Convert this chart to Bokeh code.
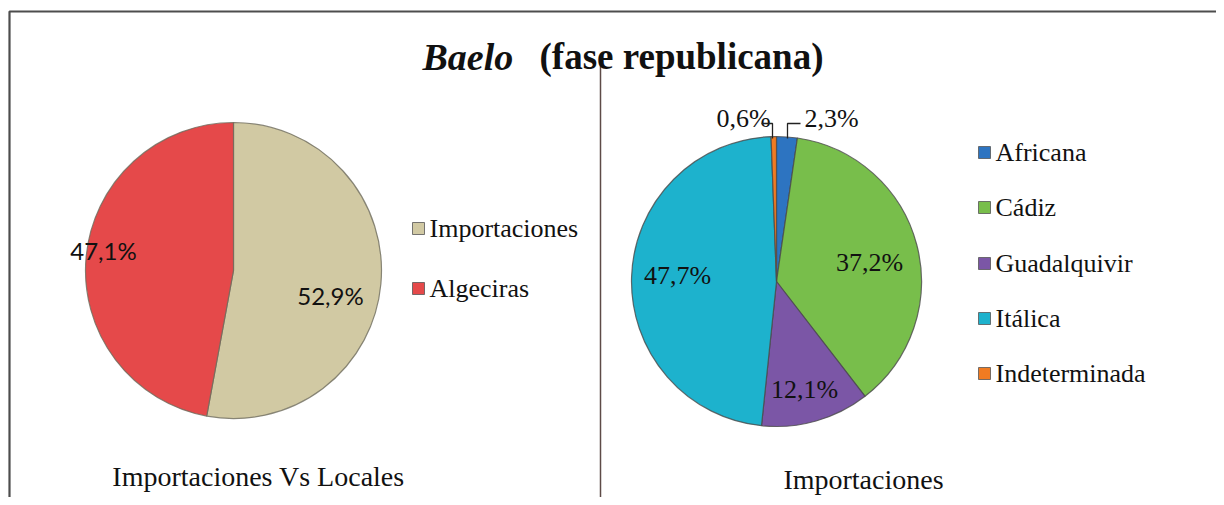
import math
from bokeh.plotting import figure
from bokeh.models import Range1d
from bokeh.core.properties import value
from bokeh.embed import file_html
from bokeh.resources import INLINE

# ---------------- data ----------------
left_categories = ["Importaciones", "Algeciras"]
left_values = [52.9, 47.1]
left_colors = ["#D1C9A3", "#E5494A"]

right_categories = ["Africana", "Cádiz", "Guadalquivir", "Itálica", "Indeterminada"]
right_values = [2.3, 37.2, 12.1, 47.7, 0.6]
right_colors = ["#2D74C1", "#78BE4B", "#7B56A6", "#1DB2CD", "#F07B22"]

title_italic = "Baelo"
title_rest = "(fase republicana)"
left_caption = "Importaciones Vs Locales"
right_caption = "Importaciones"

# ---------------- layout helpers ----------------
W, H = 1216, 497
def Y(py):  # screen y (px from top) -> data y
    return 505 - py

p = figure(width=W, height=H, x_range=Range1d(0, W), y_range=Range1d(505 - H, 505),
           output_backend="svg", toolbar_location=None, x_axis_type=None, y_axis_type=None,
           min_border=0, min_border_left=0, min_border_right=0, min_border_top=0, min_border_bottom=0)
p.grid.visible = False
p.outline_line_color = None
p.background_fill_color = "white"
p.border_fill_color = "white"

# frame border and divider
p.line(x=[9, 9, W], y=[Y(505), Y(11), Y(11)], line_color="#4d4d4d", line_width=2.2)
p.line(x=[600, 600], y=[Y(62), Y(505)], line_color="#5e4b47", line_width=1.5)

# ---------------- title ----------------
p.text(x=[422], y=[Y(56)], text=[title_italic], text_font=value("Liberation Serif"),
       text_font_style="bold italic", text_font_size="38px", text_color="#111111",
       text_baseline="alphabetic", text_align="left")
p.text(x=[539], y=[Y(56)], text=[title_rest], text_font=value("Liberation Serif"),
       text_font_style="bold", text_font_size="37px", text_color="#111111",
       text_baseline="alphabetic", text_align="left")

# ---------------- pies ----------------
def draw_pie(cx, cy, r, vals, colors, edge):
    total = sum(vals)
    start = math.pi / 2
    starts, ends = [], []
    for v in vals:
        end = start - 2 * math.pi * v / total
        starts.append(start)
        ends.append(end)
        start = end
    p.wedge(x=[cx] * len(vals), y=[Y(cy)] * len(vals), radius=r,
            start_angle=starts, end_angle=ends, direction="clock",
            fill_color=colors, line_color=edge, line_width=1.2, line_alpha=0.8)
    return starts, ends

draw_pie(233, 270, 148, left_values, left_colors, "#6e6c5c")
draw_pie(776, 281, 145, right_values, right_colors, "#4a4a4a")

def fmt(v):
    return f"{v:.1f}".replace(".", ",") + "%"

# left pie labels (sans)
left_label_pos = [(330, 295), (103, 250)]
p.text(x=[q[0] for q in left_label_pos], y=[Y(q[1]) for q in left_label_pos],
       text=[fmt(v) for v in left_values], text_font=value("Lato"), text_font_size="24px",
       text_color="#111111", text_align="center", text_baseline="middle")

# right pie labels (serif)
right_label_pos = [(831, 118), (869, 262), (804, 389), (677, 275), (743, 118)]
p.text(x=[q[0] for q in right_label_pos], y=[Y(q[1]) for q in right_label_pos],
       text=[fmt(v) for v in right_values], text_font=value("Liberation Serif"), text_font_size="26px",
       text_color="#111111", text_align="center", text_baseline="middle")

# leader lines for the small slices
p.line(x=[787, 787, 800], y=[Y(138), Y(123), Y(123)], line_color="#222222", line_width=1.3)
p.line(x=[772, 772, 761], y=[Y(138), Y(123), Y(123)], line_color="#222222", line_width=1.3)

# ---------------- legends ----------------
def legend(x0, ys, cats, colors):
    p.rect(x=[x0] * len(cats), y=[Y(v) for v in ys], width=12, height=12,
           fill_color=colors, line_color="#555555", line_width=0.8)
    p.text(x=[x0 + 11] * len(cats), y=[Y(v) for v in ys], text=cats,
           text_font=value("Liberation Serif"), text_font_size="26px", text_color="#111111",
           text_align="left", text_baseline="middle")

legend(418, [228, 288], left_categories, left_colors)
legend(984, [152, 207, 263, 318, 373], right_categories, right_colors)

# ---------------- captions ----------------
p.text(x=[258], y=[Y(476)], text=[left_caption], text_font=value("Liberation Serif"),
       text_font_size="28px", text_color="#111111", text_align="center", text_baseline="middle")
p.text(x=[863], y=[Y(479)], text=[right_caption], text_font=value("Liberation Serif"),
       text_font_size="28px", text_color="#111111", text_align="center", text_baseline="middle")

open("out.html", "w").write(file_html(p, INLINE))
